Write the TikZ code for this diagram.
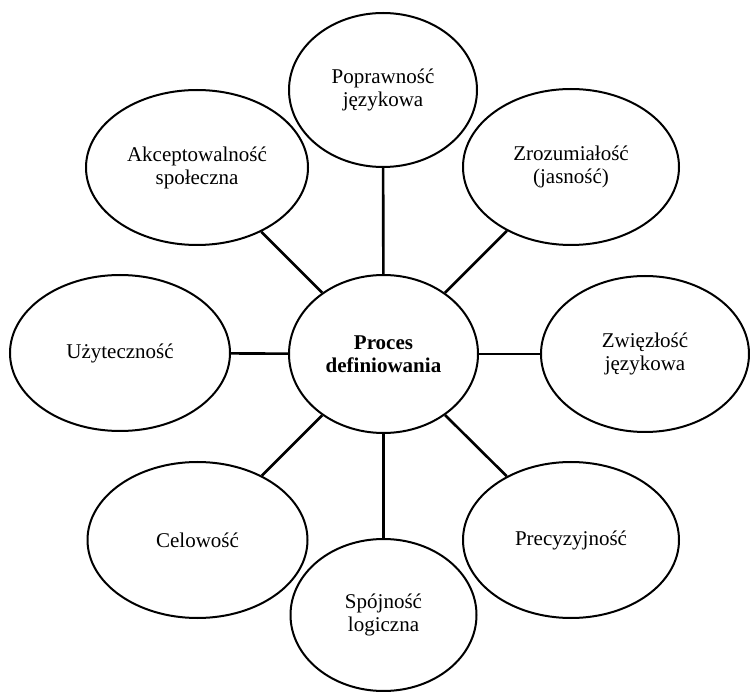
\documentclass[tikz,border=0pt]{standalone}
\usepackage{fontspec}
\setmainfont{Liberation Serif}
\usetikzlibrary{shapes.geometric}
\begin{document}
\begin{tikzpicture}[x=1pt,y=-1pt,
  oval/.style={ellipse, draw, line width=2pt, inner sep=0pt, align=center,
    font=\fontsize{21}{23}\selectfont},
  link/.style={line width=2.6pt}]
\useasboundingbox (0,0) rectangle (750,692);
\node[oval, minimum width=189pt, minimum height=158pt, font=\fontsize{21}{23}\selectfont\bfseries] (c) at (383.5,354) {Proces\\definiowania};
\node[oval, minimum width=188pt, minimum height=154pt] (pop) at (383,90) {Poprawność\\językowa};
\node[oval, minimum width=222pt, minimum height=155pt] (akc) at (197,167.5) {Akceptowalność\\społeczna};
\node[oval, minimum width=216pt, minimum height=156pt] (zro) at (571,167) {Zrozumiałość\\(jasność)};
\node[oval, minimum width=220pt, minimum height=156pt] (uzy) at (120,353) {Użyteczność};
\node[oval, minimum width=208pt, minimum height=156pt] (zwi) at (645,354) {Zwięzłość\\językowa};
\node[oval, minimum width=220pt, minimum height=156pt] (cel) at (197.5,540) {Celowość};
\node[oval, minimum width=186pt, minimum height=152pt] (spo) at (383.5,615) {Spójność\\logiczna};
\node[oval, minimum width=216pt, minimum height=156pt] (pre) at (571,540) {Precyzyjność};
\foreach \n in {pop,akc,zro,uzy,zwi,cel,spo,pre}
  \draw[link] (c) -- (\n);
\end{tikzpicture}
\end{document}
